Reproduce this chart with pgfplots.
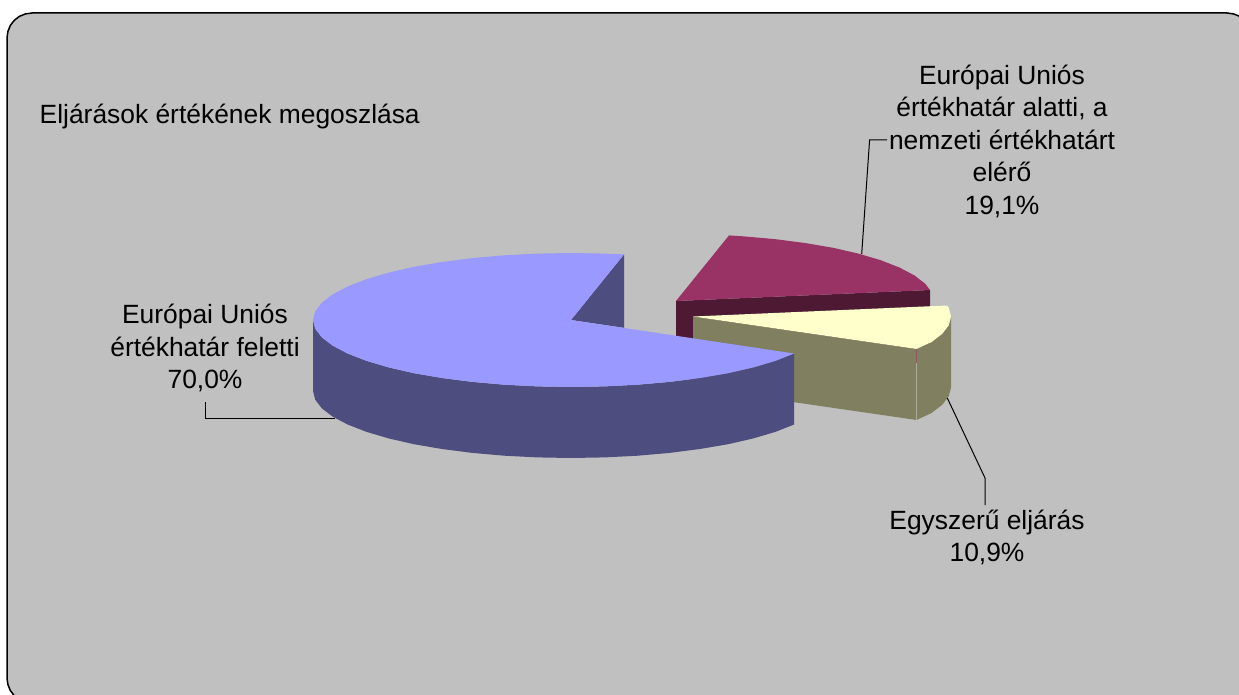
\documentclass[border=0pt]{standalone}
\usepackage{pgfplots}
\pgfplotsset{compat=1.18}
\usepackage{fontspec}
\setmainfont{Liberation Sans}
\definecolor{bgc}{HTML}{C0C0C0}
\definecolor{mtop}{HTML}{9999FF}
\definecolor{mside}{HTML}{4D4D7F}
\definecolor{rtop}{HTML}{993366}
\definecolor{rside}{HTML}{4D1933}
\definecolor{ytop}{HTML}{FFFFCC}
\definecolor{yside}{HTML}{808060}
\tikzset{lab/.style={font=\fontsize{26.4}{32.5}\selectfont, align=center, text=black, inner sep=0pt}}
\begin{document}
\begin{tikzpicture}
\begin{axis}[
  at={(0,0)}, anchor=south west,
  scale only axis, width=1239pt, height=695pt,
  xmin=0, xmax=1239, ymin=0, ymax=695, y dir=reverse,
  axis lines=none, clip=true,
  every axis plot/.append style={no markers, forget plot}
]
% frame
\addplot[fill=bgc, draw=black, line width=1.5pt] coordinates {
 (7,38) (7.9,31.5) (10.3,25.5) (14.3,20.3) (19.5,16.3) (25.5,13.9) (32,13)
 (1227,13) (1233.5,13.9) (1239.5,16.3) (1244.7,20.3) (1248.7,25.5) (1251.1,31.5) (1252,38)
 (1252,678) (1251.1,684.5) (1248.7,690.5) (1244.7,695.7) (1239.5,699.7) (1233.5,702.1) (1227,703)
 (32,703) (25.5,702.1) (19.5,699.7) (14.3,695.7) (10.3,690.5) (7.9,684.5) (7,678) (7,38)};
% red slice
\addplot[fill=rside, draw=none] coordinates {(676,301) (930,290) (930,361) (676,372)};
\addplot[fill=rtop, draw=none] coordinates {(676,301) (729,235.4) (742.8,236.3) (774.7,239.1) (805,243) (833.1,247.8) (858.4,253.6) (880.7,260.2) (899.4,267.5) (914.4,275.4) (925.2,283.7) (930,290)};
% yellow slice
\addplot[fill=yside, draw=none] coordinates {(693,316.5) (916.5,349) (916.5,420) (693,387.5)};
\addplot[fill=yside, draw=none] coordinates {(916.5,349) (931.4,342.1) (942.2,333.8) (948.8,325.2) (951,316.5) (951,387.5) (948.8,396.2) (942.2,404.8) (931.4,413.1) (916.5,420)};
\addplot[color=rtop!50!yside, line width=0.5pt] coordinates {(916.5,349) (916.5,363)};
\addplot[color=yside!65!white, line width=0.4pt] coordinates {(916.5,363) (916.5,420)};
\addplot[fill=ytop, draw=none] coordinates {(693,316.5) (947,305.5) (948.8,307.8) (951,316.5) (948.8,325.2) (942.2,333.8) (931.4,342.1) (916.5,349)};
% main slice
\addplot[fill=mside, draw=none] coordinates {
 (313,320) (315.2,328.7) (321.8,337.3) (332.6,345.6) (347.6,353.5) (366.3,360.8) (388.6,367.4) (413.9,373.2) (442,378) (472.3,381.9) (504.2,384.7) (537.3,386.4) (571,387) (604.7,386.4) (637.8,384.7) (669.7,381.9) (700,378) (728.1,373.2) (753.4,367.4) (775.7,360.8) (794,353.5)
 (794,424.5) (775.7,431.8) (753.4,438.4) (728.1,444.2) (700,449) (669.7,452.9) (637.8,455.7) (604.7,457.4) (571,458) (537.3,457.4) (504.2,455.7) (472.3,452.9) (442,449) (413.9,444.2) (388.6,438.4) (366.3,431.8) (347.6,424.5) (332.6,416.6) (321.8,408.3) (315.2,399.7) (313,391)};
\addplot[fill=mside, draw=none] coordinates {(571,320) (624,254.4) (624,327.8)};
\addplot[fill=mtop, draw=none] coordinates {
 (571,320) (794,353.5) (775.7,360.8) (753.4,367.4) (728.1,373.2) (700,378) (669.7,381.9) (637.8,384.7) (604.7,386.4) (571,387) (537.3,386.4) (504.2,384.7) (472.3,381.9) (442,378) (413.9,373.2) (388.6,367.4) (366.3,360.8) (347.6,353.5) (332.6,345.6) (321.8,337.3) (315.2,328.7) (313,320) (315.2,311.3) (321.8,302.7) (332.6,294.4) (347.6,286.5) (366.3,279.2) (388.6,272.6) (413.9,266.8) (442,262) (472.3,258.1) (504.2,255.3) (537.3,253.6) (571,253) (604.7,253.6) (624,254.4)};
% leaders
\addplot[color=black, line width=1pt] coordinates {(861.7,254) (869.6,140) (887,140)};
\addplot[color=black, line width=1pt] coordinates {(947.3,398) (985,478) (985,505)};
\addplot[color=black, line width=1pt] coordinates {(205,402) (205,418.5) (335,418.5)};
% texts
\node[lab, anchor=west] at (axis cs:39.5,116.5) {Eljárások értékének megoszlása};
\node[lab] at (axis cs:1002,141) {Európai Uniós\\értékhatár alatti, a\\nemzeti értékhatárt\\elérő\\19,1\%};
\node[lab] at (axis cs:205,348) {Európai Uniós\\értékhatár feletti\\70,0\%};
\node[lab] at (axis cs:987,537.5) {Egyszerű eljárás\\10,9\%};
\end{axis}
\pgfresetboundingbox
\useasboundingbox (0,0) rectangle (1239pt,695pt);
\end{tikzpicture}
\end{document}
